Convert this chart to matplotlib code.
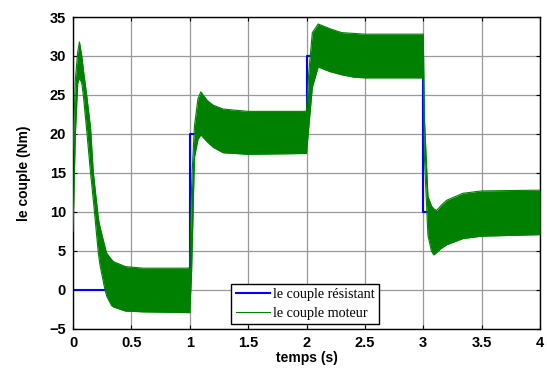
import matplotlib
matplotlib.use('Agg')
import matplotlib.pyplot as plt

# couple resistant (step load)
t_load = [0, 1, 2, 3, 4]
couple_res = [0, 20, 30, 10, 10]

# couple moteur: envelope of the fast ripple
t_env = [0.0, 0.02, 0.04, 0.055, 0.075, 0.088, 0.117, 0.15, 0.174, 0.217, 0.231,
         0.274, 0.289, 0.33, 0.35, 0.45, 0.6, 0.99,
         1.0, 1.015, 1.02, 1.04, 1.07, 1.094, 1.15, 1.2, 1.285, 1.5, 1.99,
         2.0, 2.02, 2.05, 2.1, 2.2, 2.3, 2.4, 2.5, 2.99,
         3.0, 3.01, 3.04, 3.07, 3.09, 3.115, 3.15, 3.2, 3.34, 3.5, 4.0]
upper = [18, 27, 30.5, 31.8, 30, 28.3, 25, 20.8, 15, 9.2, 8.1,
         5.5, 4.7, 3.9, 3.6, 3.0, 2.8, 2.8,
         3, 13, 15, 21, 24.5, 25.4, 24.3, 23.7, 23.2, 22.9, 22.9,
         23, 28, 33, 34.1, 33.5, 33.0, 32.9, 32.8, 32.8,
         32.8, 22, 12, 10.8, 10.4, 10.2, 10.8, 11.5, 12.4, 12.7, 12.8]
lower = [7.5, 20, 26.5, 27.2, 26.5, 25, 20.5, 15, 11.5, 4.7, 3.2,
         0, -0.8, -2, -2.2, -2.7, -2.8, -2.9,
         -2.9, 2, 5, 17, 19.3, 19.9, 19, 18.3, 17.6, 17.4, 17.5,
         17.5, 21, 26, 28.6, 28.0, 27.6, 27.3, 27.2, 27.2,
         27, 17, 7, 5, 4.5, 4.8, 5.3, 5.8, 6.6, 6.9, 7.1]

xticks = [0, 0.5, 1, 1.5, 2, 2.5, 3, 3.5, 4]
xtick_labels = ['0', '0.5', '1', '1.5', '2', '2.5', '3', '3.5', '4']
yticks = [-5, 0, 5, 10, 15, 20, 25, 30, 35]

fig = plt.figure(figsize=(5.47, 3.72), dpi=100)
ax = fig.add_axes([0.1335, 0.1156, 0.8537, 0.8387])

ax.plot(t_load, couple_res, color='#0000ff', lw=1.5, drawstyle='steps-post',
        label='le couple résistant', zorder=2)
ax.fill_between(t_env, lower, upper, color='#008000', lw=0, zorder=3)
ax.plot(t_env, upper, color='#008000', lw=0.8, label='le couple moteur', zorder=3)
ax.plot(t_env, lower, color='#008000', lw=0.8, zorder=3)

ax.set_xlim(0, 4)
ax.set_ylim(-5, 35)
ax.set_xticks(xticks)
ax.set_xticklabels(xtick_labels)
ax.set_yticks(yticks)
ax.grid(True, color='#999999', lw=0.9, ls='-')
ax.set_axisbelow(True)
ax.tick_params(direction='in', top=True, right=True, length=3, width=0.8,
               labelsize=10.5, pad=5)
for lab in ax.get_xticklabels() + ax.get_yticklabels():
    lab.set_fontfamily('Liberation Sans')
    lab.set_fontweight('bold')
for sp in ax.spines.values():
    sp.set_linewidth(1.0)

ax.set_xlabel('temps (s)', fontsize=10, fontweight='bold',
              family='Liberation Sans', labelpad=1)
ax.set_ylabel('le couple (Nm)', fontsize=10, fontweight='bold',
              family='Liberation Sans', labelpad=13)

leg = ax.legend(loc='lower left', bbox_to_anchor=(0.339, 0.015),
                prop={'family': 'Liberation Serif', 'size': 10.2},
                fancybox=False, framealpha=1, edgecolor='black',
                handlelength=2.4, borderpad=0.3, labelspacing=0.4,
                handletextpad=0.25, borderaxespad=0)
leg.get_frame().set_linewidth(1.0)

plt.savefig('out.png', dpi=100)
